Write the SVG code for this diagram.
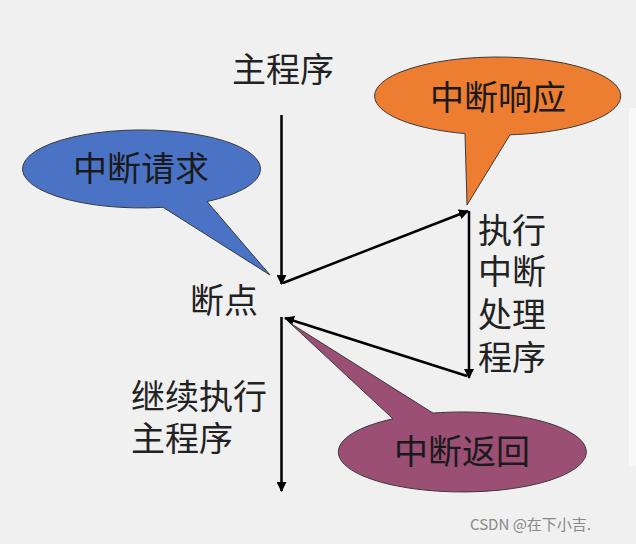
<svg xmlns="http://www.w3.org/2000/svg" width="636" height="544" viewBox="0 0 636 544">
<style>
.lbl{font-family:"Noto Sans CJK SC","Noto Sans",sans-serif;font-size:34px;fill:#222}
.bub{stroke:#3a3a3a;stroke-width:1}
.bt{font-family:"Noto Sans CJK SC","Noto Sans",sans-serif;font-size:34px;fill:#1a1a1a;text-anchor:middle}
.ln{stroke:#000;stroke-width:2.5;fill:none;marker-end:url(#ah)}
.wm{font-family:"Noto Sans CJK SC","Liberation Sans",sans-serif;font-size:15px;fill:#888}
</style>
<defs>
<marker id="ah" viewBox="0 0 10 10" refX="9" refY="5" markerWidth="4" markerHeight="4" orient="auto" markerUnits="strokeWidth">
<path d="M0,0 L10,5 L0,10 z" fill="#000"/>
</marker>
</defs>
<rect width="636" height="544" fill="#f0f0f0"/>
<rect x="629" y="108" width="7" height="358" fill="#f8f8f8"/>
<g id="connectors">
<line class="ln" x1="281.5" y1="115" x2="281.5" y2="284"/>
<line class="ln" x1="283" y1="283" x2="468" y2="211"/>
<line class="ln" x1="469" y1="211" x2="469" y2="378"/>
<line class="ln" x1="467" y1="376" x2="285" y2="318"/>
<line class="ln" x1="281.5" y1="317" x2="281.5" y2="491"/>
</g>
<g id="main-label"><text class="lbl" x="232" y="82">主程序</text></g>
<g id="breakpoint-label"><text class="lbl" x="190" y="313">断点</text></g>
<g id="isr-label">
<text class="lbl"><tspan x="478" y="243">执行</tspan><tspan x="478" y="284">中断</tspan><tspan x="478" y="327">处理</tspan><tspan x="478" y="370">程序</tspan></text>
</g>
<g id="continue-label">
<text class="lbl"><tspan x="131" y="409">继续执行</tspan><tspan x="131" y="451">主程序</tspan></text>
</g>
<g id="bubble-request">
<path class="bub" fill="#4a73c6" d="M163,207.3 L270,275 L207,201.5 A119,39 0 1 0 163,207.3 z"/>
<text class="bt" x="141" y="181">中断请求</text>
</g>
<g id="bubble-response">
<path class="bub" fill="#ed7d31" d="M465,133.6 L467,205 L510,134.8 A123,39 0 1 0 465,133.6 z"/>
<text class="bt" x="498" y="110">中断响应</text>
</g>
<g id="bubble-return">
<path class="bub" fill="#9b4f74" d="M393,418.8 L290,323 L433,413.1 A124,40 0 1 1 393,418.8 z"/>
<text class="bt" x="462" y="464">中断返回</text>
</g>
<g id="watermark"><text class="wm" x="470" y="530">CSDN @在下小吉.</text></g>
</svg>
